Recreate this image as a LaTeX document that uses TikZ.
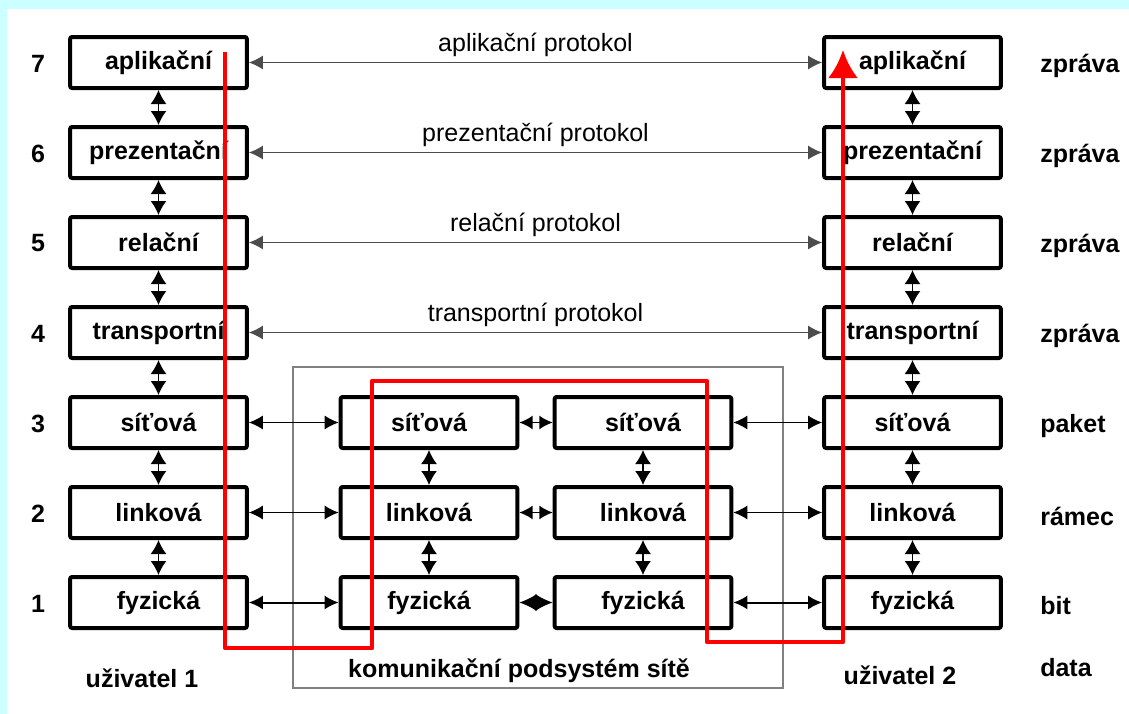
\documentclass[tikz,border=0pt]{standalone}
\usepackage{fontspec}
\setmainfont{Liberation Sans}
\usetikzlibrary{arrows.meta}
\tikzset{>={Latex[length=10.5pt,width=10.5pt]}}
\definecolor{pozadi}{RGB}{204,255,255}

\begin{document}
\begin{tikzpicture}[x=0.75pt,y=-0.75pt,font=\fontsize{18.75}{22}\selectfont\bfseries]
      \tikzstyle{vrstva}=[draw,line width=3pt,rounded corners=1.5pt,minimum width=132.5pt,minimum height=38.25pt,inner sep=0pt];
      \tikzstyle{svisla}=[<->,line width=1.2pt,>={Latex[length=10.5pt,width=12pt]}];
      \tikzstyle{protokol}=[<->,draw=black!70,line width=1.1pt];
      \tikzstyle{spoj}=[<->,line width=1pt];
      \tikzstyle{kratka}=[<->,line width=1.2pt,>={Latex[length=10pt,width=10.5pt]}];
      \useasboundingbox (0,0) rectangle (1129,714);
      \fill[pozadi] (0,0) rectangle (1129,714);
      \fill[white] (7,9) rectangle (1129,714);
      \draw[gray,line width=1.5pt] (293,367) rectangle (783,688);

      % vrstvy obou uzivatelu
      \foreach \n/\jmeno/\jed in {7/aplikační/zpráva,6/prezentační/zpráva,5/relační/zpráva,4/transportní/zpráva,3/síťová/paket,2/linková/rámec,1/fyzická/bit} {
        \node[vrstva] (L\n) at (158.5,{62.5+(7-\n)*90}) {\jmeno};
        \node[vrstva] (R\n) at (912.5,{62.5+(7-\n)*90}) {\jmeno};
        \node (c\n) at (38,{63.5+(7-\n)*90}) {\n};
        \node[anchor=west,inner sep=0pt] (j\n) at (1040,{66+(7-\n)*90}) {\jed};
      }
      % podsit
      \foreach \n/\jmeno in {3/síťová,2/linková,1/fyzická} {
        \node[vrstva] (M\n) at (429,{62.5+(7-\n)*90}) {\jmeno};
        \node[vrstva] (N\n) at (643,{62.5+(7-\n)*90}) {\jmeno};
      }

      \foreach \a/\b in {7/6,6/5,5/4,4/3,3/2,2/1} {
        \draw[svisla] (L\a) -- (L\b);
        \draw[svisla] (R\a) -- (R\b);
      }
      \foreach \a/\b in {3/2,2/1} {
        \draw[svisla] (M\a) -- (M\b);
        \draw[svisla] (N\a) -- (N\b);
      }

      \foreach \n/\txt in {7/aplikační protokol,6/prezentační protokol,5/relační protokol,4/transportní protokol}
        \draw[protokol] (L\n) -- (R\n) node[midway,yshift=13.5pt,black,font=\fontsize{18.75}{22}\selectfont\mdseries]{\txt};

      \foreach \n in {3,2} {
        \draw[spoj] (L\n) -- (M\n);
        \draw[kratka] (M\n) -- (N\n);
        \draw[spoj] (N\n) -- (R\n);
      }
      \draw[spoj,line width=1.5pt] (L1) -- (M1);
      \draw[<->,line width=1pt,>={Latex[length=13pt,width=12.75pt]}] (M1) -- (N1);
      \draw[spoj,line width=1.5pt] (N1) -- (R1);

      \node (u1) at (142,678) {uživatel 1};
      \node (kps) at (519,671) {komunikační podsystém sítě};
      \node (u2) at (900,675) {uživatel 2};
      \node[anchor=west,inner sep=0pt] (jd) at (1040,668) {data};

      % cesta dat
      \draw[red,line width=3.5pt,line join=round,-{Latex[length=21pt,width=22.5pt]}] (225,52) -- (225,648) -- (372,648) -- (372,381) -- (707,381) -- (707,642) -- (843,642) -- (843,50);
    \end{tikzpicture}
\end{document}
